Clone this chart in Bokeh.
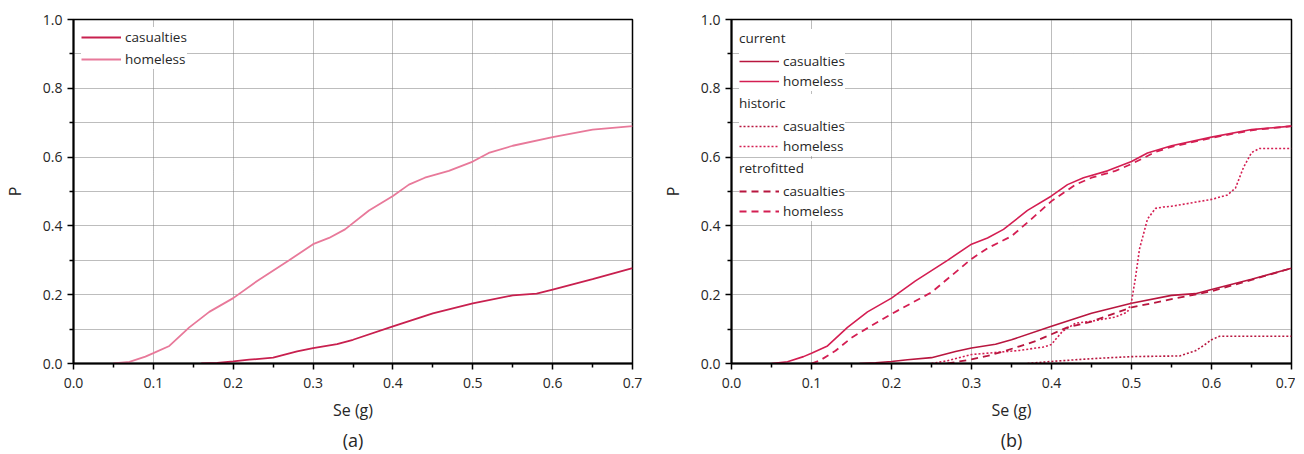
from bokeh.plotting import figure
from bokeh.layouts import row
from bokeh.models import FixedTicker, Legend, LegendItem, Title, PrintfTickFormatter
from bokeh.embed import file_html
from bokeh.resources import INLINE

# ---------------- data ----------------
cur_hom_x = [0.05, 0.07, 0.09, 0.10, 0.12, 0.145, 0.17, 0.20, 0.23, 0.27, 0.30, 0.32, 0.34, 0.37, 0.40, 0.42, 0.44, 0.47, 0.50, 0.52, 0.55, 0.60, 0.65, 0.70]
cur_hom_y = [0.0, 0.005, 0.02, 0.03, 0.051, 0.105, 0.15, 0.19, 0.24, 0.30, 0.347, 0.365, 0.39, 0.445, 0.487, 0.52, 0.54, 0.56, 0.587, 0.612, 0.633, 0.658, 0.68, 0.69]

cur_cas_x = [0.16, 0.18, 0.20, 0.22, 0.25, 0.28, 0.30, 0.33, 0.35, 0.40, 0.45, 0.50, 0.55, 0.58, 0.60, 0.65, 0.70]
cur_cas_y = [0.0, 0.002, 0.006, 0.011, 0.017, 0.035, 0.045, 0.056, 0.069, 0.108, 0.146, 0.175, 0.198, 0.203, 0.215, 0.245, 0.277]

ret_hom_x = [0.10, 0.11, 0.13, 0.15, 0.175, 0.20, 0.25, 0.30, 0.32, 0.35, 0.37, 0.40, 0.43, 0.45, 0.48, 0.50, 0.53, 0.55, 0.60, 0.65, 0.70]
ret_hom_y = [0.0, 0.008, 0.037, 0.075, 0.11, 0.144, 0.207, 0.304, 0.335, 0.37, 0.41, 0.472, 0.52, 0.54, 0.56, 0.58, 0.615, 0.63, 0.656, 0.678, 0.69]

ret_cas_x = [0.27, 0.30, 0.32, 0.34, 0.36, 0.38, 0.40, 0.42, 0.45, 0.50, 0.55, 0.60, 0.65, 0.70]
ret_cas_y = [0.0, 0.012, 0.022, 0.035, 0.05, 0.065, 0.085, 0.105, 0.122, 0.163, 0.187, 0.21, 0.243, 0.277]

his_hom_x = [0.25, 0.27, 0.30, 0.33, 0.36, 0.39, 0.40, 0.405, 0.414, 0.43, 0.45, 0.48, 0.495, 0.50, 0.505, 0.51, 0.52, 0.53, 0.54, 0.55, 0.60, 0.62, 0.63, 0.64, 0.65, 0.66, 0.70]
his_hom_y = [0.0, 0.008, 0.026, 0.032, 0.038, 0.048, 0.055, 0.07, 0.094, 0.117, 0.123, 0.135, 0.15, 0.18, 0.25, 0.333, 0.42, 0.451, 0.455, 0.457, 0.477, 0.49, 0.51, 0.57, 0.613, 0.625, 0.625]

his_cas_x = [0.37, 0.40, 0.45, 0.50, 0.56, 0.58, 0.59, 0.60, 0.61, 0.70]
his_cas_y = [0.0, 0.006, 0.014, 0.02, 0.022, 0.037, 0.052, 0.069, 0.079, 0.079]

x_ticks = [0.0, 0.1, 0.2, 0.3, 0.4, 0.5, 0.6, 0.7]
x_minor = [0.05, 0.15, 0.25, 0.35, 0.45, 0.55, 0.65]
y_ticks = [0.0, 0.2, 0.4, 0.6, 0.8, 1.0]
y_minor = [0.1, 0.3, 0.5, 0.7, 0.9]
x_grid = [0.1, 0.2, 0.3, 0.4, 0.5, 0.6]
y_grid = [0.1, 0.2, 0.3, 0.4, 0.5, 0.6, 0.7, 0.8, 0.9]

FONT = "Open Sans"
TXT = "#262626"
CAS_A = "#C8204F"
HOM_A = "#E8799A"
CAS_B = "#B8163F"
HOM_B = "#D41E52"


def make_fig(left, frame_w, right, sub):
    p = figure(frame_width=frame_w, frame_height=344, x_range=(0, 0.7), y_range=(0, 1),
               min_border_left=left, min_border_right=right, min_border_top=19,
               min_border_bottom=75, output_backend="svg", toolbar_location=None,
               x_axis_label="Se (g)", y_axis_label="P")
    p.background_fill_color = "white"
    p.border_fill_color = "white"
    p.outline_line_color = "black"
    p.outline_line_width = 1.5
    p.outline_line_alpha = 1.0
    for ax, tk, mn in ((p.xaxis, x_ticks, x_minor), (p.yaxis, y_ticks, y_minor)):
        ax.ticker = FixedTicker(ticks=tk, minor_ticks=mn)
        ax.formatter = PrintfTickFormatter(format="%.1f")
        ax.axis_line_width = 2
        ax.axis_line_color = "black"
        ax.major_tick_in = 0
        ax.major_tick_out = 6
        ax.minor_tick_in = 0
        ax.minor_tick_out = 4
        ax.major_tick_line_width = 1.5
        ax.minor_tick_line_width = 1.5
        ax.major_label_text_font = FONT
        ax.major_label_text_font_size = "14px"
        ax.major_label_text_color = TXT
        ax.axis_label_text_font = FONT
        ax.axis_label_text_font_size = "16px"
        ax.axis_label_text_font_style = "normal"
        ax.axis_label_text_color = TXT
    p.xaxis.major_label_standoff = 8
    p.xaxis.axis_label_standoff = 8
    p.yaxis.axis_label_standoff = 14
    p.xgrid.ticker = FixedTicker(ticks=x_grid)
    p.ygrid.ticker = FixedTicker(ticks=y_grid)
    for g in (p.xgrid, p.ygrid):
        g.grid_line_color = "#7a7a7a"
        g.grid_line_dash = "1 1"
        g.grid_line_width = 1
    p.add_layout(Title(text=sub, align="center", text_font=FONT, text_font_size="18px",
                       text_font_style="normal", text_color=TXT, standoff=5), "below")
    return p


def style_legend(lg, pitch_spacing):
    lg.background_fill_color = "white"
    lg.background_fill_alpha = 1.0
    lg.border_line_color = None
    lg.padding = 8
    lg.margin = 0
    lg.spacing = pitch_spacing
    lg.glyph_width = 40
    lg.glyph_height = 20
    lg.label_height = 20
    lg.label_standoff = 4
    lg.label_text_font = FONT
    lg.label_text_font_size = "13.5px"
    lg.label_text_color = TXT
    lg.title_text_font = FONT
    lg.title_text_font_size = "13.5px"
    lg.title_text_font_style = "normal"
    lg.title_text_color = TXT
    lg.title_standoff = 4


# ---------------- panel (a) ----------------
pa = make_fig(66, 559, 19, "(a)")
ra_c = pa.line(cur_cas_x, cur_cas_y, line_color=CAS_A, line_width=1.8)
ra_h = pa.line(cur_hom_x, cur_hom_y, line_color=HOM_A, line_width=1.8)
lga = Legend(items=[LegendItem(label="casualties", renderers=[ra_c]),
                    LegendItem(label="homeless", renderers=[ra_h])], location=(8, 294))
style_legend(lga, 2)
pa.add_layout(lga)

# ---------------- panel (b) ----------------
pb = make_fig(80, 560, 4, "(b)")
rb_cc = pb.line(cur_cas_x, cur_cas_y, line_color=CAS_B, line_width=1.6)
rb_ch = pb.line(cur_hom_x, cur_hom_y, line_color=HOM_B, line_width=1.6)
rb_hc = pb.line(his_cas_x, his_cas_y, line_color=CAS_B, line_width=1.6, line_dash="2 2")
rb_hh = pb.line(his_hom_x, his_hom_y, line_color=HOM_B, line_width=1.6, line_dash="2 2")
rb_rc = pb.line(ret_cas_x, ret_cas_y, line_color=CAS_B, line_width=1.8, line_dash="7 5")
rb_rh = pb.line(ret_hom_x, ret_hom_y, line_color=HOM_B, line_width=1.8, line_dash="7 5")

groups = [("current", rb_cc, rb_ch, 272), ("historic", rb_hc, rb_hh, 207),
          ("retrofitted", rb_rc, rb_rh, 142)]
for title, rc, rh, bottom in groups:
    lg = Legend(items=[LegendItem(label="casualties", renderers=[rc]),
                       LegendItem(label="homeless", renderers=[rh])],
                title=title, location=(8, bottom))
    style_legend(lg, 0)
    pb.add_layout(lg)

layout = row(pa, pb)
open("out.html", "w").write(file_html(layout, INLINE))
